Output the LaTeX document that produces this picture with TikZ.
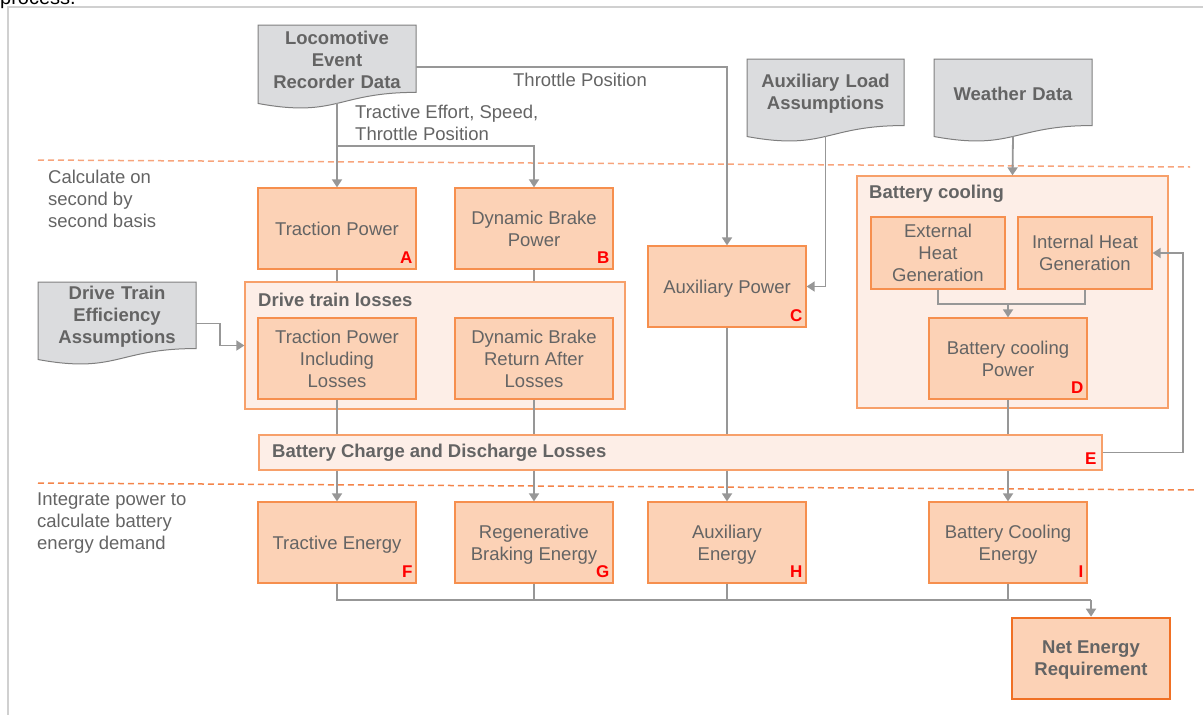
\documentclass[tikz,border=0pt]{standalone}
\usepackage{fontspec}
\setmainfont{Liberation Sans}
\usetikzlibrary{arrows.meta,calc}
\definecolor{boxfill}{HTML}{FCD2B6}
\definecolor{boxline}{HTML}{F68F4E}
\definecolor{contfill}{HTML}{FDEEE7}
\definecolor{contline}{HTML}{F7A06A}
\definecolor{netline}{HTML}{F07024}
\definecolor{txtgray}{HTML}{646464}
\definecolor{docfill}{HTML}{DBDCDE}
\definecolor{docline}{HTML}{7F7F7F}
\definecolor{conngray}{HTML}{979797}
\definecolor{framegray}{HTML}{D0D0D0}
\definecolor{dashtop}{HTML}{F7A47C}
\definecolor{dashbot}{HTML}{F3844A}
\newcommand\bodyfont{\fontsize{18.5}{22}\selectfont}
\newcommand\docbox[6]{%
  \pgfmathsetmacro\dbxm{(#2+#3)/2}%
  \pgfmathsetmacro\dbw{#3-#2}%
  \filldraw[docshape] (#2,#4) -- (#3,#4) -- (#3,#4+0.802*#5)
     .. controls (\dbxm,#4+0.802*#5) and (\dbxm,#4+1.108*#5) .. (#2,#4+0.934*#5) -- cycle;
  \node[doctext, text width=\dbw pt] (#1) at (\dbxm,#4+0.4*#5+1.5) {#6};
  \coordinate (#1-r) at (#3,#4+0.5*#5);
  \coordinate (#1-b) at (\dbxm,#4+0.933*#5);
}
\begin{document}
\begin{tikzpicture}[x=1pt,y=-1pt,
  box/.style={draw=boxline, fill=boxfill, line width=1.3pt, text=txtgray, align=center,
    font=\bodyfont, inner sep=0pt, text depth=0pt, minimum width=158pt, minimum height=81pt},
  cont/.style={draw=contline, fill=contfill, line width=1.3pt, inner sep=0pt},
  title/.style={text=txtgray, font=\bodyfont\bfseries, inner sep=0pt, anchor=west},
  plain/.style={text=txtgray, font=\bodyfont, inner sep=0pt, align=left, anchor=west},
  docshape/.style={fill=docfill, draw=docline, line width=1pt},
  doctext/.style={text=txtgray, font=\bodyfont\bfseries, align=center, inner sep=0pt},
  tag/.style={text=red, font=\fontsize{17}{17}\selectfont\bfseries, inner sep=0pt, anchor=base east},
  conn/.style={draw=conngray, line width=1.8pt},
  arrow/.style={conn, -{Triangle[width=10pt,length=8pt]}},
  dashline/.style={line width=1.5pt, dash pattern=on 6pt off 4pt}
]
\useasboundingbox (0,0) rectangle (1203,715);
% frame and cut text
\node[anchor=base west, inner sep=0pt, font=\fontsize{20}{24}\selectfont] (proc) at (0,4) {process.};
\draw[framegray, line width=2pt] (8,715) -- (8,7) -- (1203,7);

% dashed separators
\draw[dashline, draw=dashtop] (38,160) -- (1190,167);
\draw[dashline, draw=dashbot] (38,483) -- (1195,490);

% side labels
\node[plain] (lab1) at (48,199) {Calculate on\\second by\\second basis};
\node[plain] (lab2) at (37,523.5) {Integrate power to\\calculate battery\\energy demand};

% documents
\docbox{loco}{258}{416}{25}{84}{Locomotive\\Event\\Recorder Data}
\docbox{aux}{747}{904}{59}{83}{Auxiliary Load\\Assumptions}
\docbox{weather}{934}{1092}{59}{83}{Weather Data}
\docbox{dte}{38}{196}{282}{83}{Drive Train\\Efficiency\\Assumptions}

% containers
\node[cont, minimum width=380pt, minimum height=127pt] (DTL) at (435,345.5) {};
\node[title] (DTLt) at (258,300) {Drive train losses};
\node[cont, minimum width=311pt, minimum height=232pt] (BC) at (1012.5,292) {};
\node[title] (BCt) at (869,194) {Battery cooling};
\node[cont, minimum width=843pt, minimum height=35pt] (E) at (680.5,452.5) {};
\node[title] (Et) at (272,452.5) {Battery Charge and Discharge Losses};

% power boxes
\node[box] (A) at (337,228.5) {Traction Power};
\node[box] (B) at (534,228.5) {Dynamic Brake\\Power};
\node[box] (C) at (727,286.5) {Auxiliary Power};
\node[box] (TPL) at (337,358.5) {Traction Power\\Including\\Losses};
\node[box] (DBR) at (534,358.5) {Dynamic Brake\\Return After\\Losses};
\node[box, minimum width=134pt, minimum height=72pt] (EHG) at (938,253) {External\\Heat\\Generation};
\node[box, minimum width=134pt, minimum height=72pt] (IHG) at (1085,253) {Internal Heat\\Generation};
\node[box] (D) at (1008,358.5) {Battery cooling\\Power};

% energy boxes
\node[box] (F) at (337,542.5) {Tractive Energy};
\node[box] (G) at (534,542.5) {Regenerative\\Braking Energy};
\node[box] (H) at (727,542.5) {Auxiliary\\Energy};
\node[box] (I) at (1008,542.5) {Battery Cooling\\Energy};
\node[box, draw=netline, line width=2.6pt, font=\bodyfont\bfseries] (Net) at (1091,658.5) {Net Energy\\Requirement};

% tags
\node[tag] (tA) at ($(A.south east)+(-4,-6)$) {A};
\node[tag] (tB) at ($(B.south east)+(-4,-6)$) {B};
\node[tag] (tC) at ($(C.south east)+(-4,-6)$) {C};
\node[tag] (tD) at ($(D.south east)+(-4,-6)$) {D};
\node[tag] (tE) at ($(E.south east)+(-6,-6)$) {E};
\node[tag] (tF) at ($(F.south east)+(-4,-6)$) {F};
\node[tag] (tG) at ($(G.south east)+(-4,-6)$) {G};
\node[tag] (tH) at ($(H.south east)+(-4,-6)$) {H};
\node[tag] (tI) at ($(I.south east)+(-4,-6)$) {I};

% connector labels
\node[text=txtgray, font=\bodyfont, inner sep=0pt] (thr) at (580,80) {Throttle Position};
\node[plain] (tes) at (355,122.5) {Tractive Effort, Speed,\\Throttle Position};

% connectors top
\coordinate (split) at (337,146);
\draw[arrow] (loco-b) -- (A.north);
\draw[arrow] (split) -| (B.north);
\draw[arrow] (loco-r) -| (C.north);
\draw[arrow] (aux-b) |- (C.east);
\draw[arrow] (weather-b) -- (BC.north);
\draw[arrow] (dte-r) -- ($(dte-r)+(24,0)$) |- (DTL.west);

% into drive train losses
\draw[conn] (A.south) -- (A.south |- DTL.north);
\draw[conn] (B.south) -- (B.south |- DTL.north);

% battery cooling internals
\coordinate (hj) at (1008,304);
\draw[conn] (EHG.south) |- (hj) -| (IHG.south);
\draw[arrow] (hj) -- (D.north);

% to E
\draw[conn] (TPL.south) -- (TPL.south |- E.north);
\draw[conn] (DBR.south) -- (DBR.south |- E.north);
\draw[conn] (C.south) -- (C.south |- E.north);
\draw[conn] (D.south) -- (D.south |- E.north);
\coordinate (loopR) at (1183,452.5);
\draw[arrow] (E.east) -- (loopR) |- (IHG.east);

% E to energies
\draw[arrow] (F.north |- E.south) -- (F.north);
\draw[arrow] (G.north |- E.south) -- (G.north);
\draw[arrow] (H.north |- E.south) -- (H.north);
\draw[arrow] (I.north |- E.south) -- (I.north);

% collect
\coordinate (col) at (1091,600);
\draw[conn] (F.south) |- (col);
\draw[conn] (G.south) -- (G.south |- col);
\draw[conn] (H.south) -- (H.south |- col);
\draw[conn] (I.south) -- (I.south |- col);
\draw[arrow] (col) -- (Net.north);
\end{tikzpicture}
\end{document}
